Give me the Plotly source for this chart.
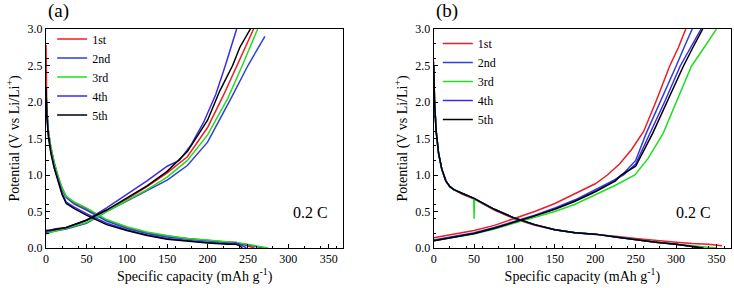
import plotly.graph_objects as go

cycles = ["1st", "2nd", "3rd", "4th", "5th"]
colors = ["#ee1c25", "#3040d0", "#22dd22", "#3b2ce8", "#000000"]

# ---------- panel (a) ----------
a_dis_x = [
    [0, 0.5, 1, 3, 6, 10, 15, 20, 25, 35, 50, 75, 100, 125, 150, 175, 200, 225, 235, 245, 252, 258],
    [0, 1, 3, 6, 10, 15, 20, 25, 35, 50, 75, 100, 125, 150, 175, 200, 225, 235, 250, 262, 270],
    [0, 1, 3, 6, 10, 15, 20, 25, 35, 50, 75, 100, 125, 150, 175, 200, 225, 240, 255, 268, 275],
    [0, 1, 3, 6, 10, 15, 20, 25, 35, 50, 75, 100, 125, 150, 175, 200, 225, 235, 242, 248],
    [0, 1, 3, 6, 10, 15, 20, 25, 35, 50, 75, 100, 125, 150, 175, 200, 225, 235, 240, 243],
]
a_dis_v = [
    [2.78, 2.2, 1.9, 1.6, 1.38, 1.18, 0.98, 0.82, 0.7, 0.62, 0.54, 0.38, 0.28, 0.21, 0.16, 0.13, 0.1, 0.08, 0.08, 0.05, 0.02, 0.0],
    [2.1, 1.85, 1.58, 1.36, 1.16, 0.96, 0.8, 0.69, 0.6, 0.52, 0.37, 0.27, 0.2, 0.15, 0.12, 0.1, 0.08, 0.07, 0.04, 0.02, 0.0],
    [2.05, 1.85, 1.6, 1.38, 1.18, 0.98, 0.82, 0.71, 0.63, 0.55, 0.39, 0.29, 0.22, 0.17, 0.13, 0.11, 0.09, 0.07, 0.04, 0.01, 0.0],
    [2.2, 1.85, 1.55, 1.32, 1.12, 0.92, 0.75, 0.63, 0.56, 0.47, 0.34, 0.25, 0.18, 0.13, 0.1, 0.08, 0.06, 0.07, 0.04, 0.0],
    [2.2, 1.8, 1.52, 1.3, 1.1, 0.9, 0.73, 0.61, 0.54, 0.45, 0.32, 0.24, 0.17, 0.12, 0.09, 0.07, 0.05, 0.05, 0.03, 0.0],
]
a_chg_x = [
    [0, 10, 25, 50, 75, 100, 125, 150, 175, 200, 220, 236, 257],
    [0, 10, 25, 50, 75, 100, 125, 150, 175, 200, 229, 250, 271],
    [0, 10, 25, 50, 75, 100, 125, 150, 175, 200, 225, 243, 262],
    [0, 10, 25, 50, 75, 100, 125, 150, 165, 180, 195, 210, 222, 236],
    [0, 10, 25, 50, 75, 100, 125, 150, 175, 200, 215, 231, 240, 253],
]
a_chg_v = [
    [0.2, 0.24, 0.27, 0.38, 0.52, 0.67, 0.84, 1.03, 1.25, 1.65, 2.1, 2.5, 3.0],
    [0.2, 0.23, 0.26, 0.34, 0.5, 0.64, 0.78, 0.93, 1.13, 1.45, 2.05, 2.5, 2.9],
    [0.19, 0.23, 0.27, 0.35, 0.5, 0.65, 0.8, 0.97, 1.2, 1.55, 2.05, 2.5, 3.0],
    [0.22, 0.26, 0.28, 0.38, 0.55, 0.73, 0.92, 1.12, 1.2, 1.42, 1.72, 2.1, 2.5, 3.0],
    [0.24, 0.25, 0.28, 0.38, 0.52, 0.68, 0.85, 1.05, 1.32, 1.75, 2.15, 2.5, 2.75, 3.0],
]

# ---------- panel (b) ----------
b_dis_x = [
    [0, 1, 3, 6, 10, 15, 20, 25, 35, 50, 75, 100, 125, 150, 175, 200, 225, 250, 275, 300, 320, 340, 357],
    [0, 1, 3, 6, 10, 15, 20, 25, 35, 50, 75, 100, 125, 150, 175, 200, 225, 250, 275, 300, 320, 335],
    [0, 1, 3, 6, 10, 15, 20, 25, 35, 49.5, 50, 50.5, 75, 100, 125, 150, 175, 200, 225, 250, 275, 300, 325, 350],
    [0, 1, 3, 6, 10, 15, 20, 25, 35, 50, 75, 100, 125, 150, 175, 200, 225, 250, 275, 300, 320, 334],
    [0, 1, 3, 6, 10, 15, 20, 25, 35, 50, 75, 100, 125, 150, 175, 200, 225, 250, 275, 300, 320, 333],
]
b_dis_v = [
    [2.55, 2.05, 1.62, 1.3, 1.08, 0.92, 0.84, 0.8, 0.74, 0.67, 0.52, 0.4, 0.31, 0.25, 0.21, 0.19, 0.16, 0.13, 0.1, 0.08, 0.06, 0.05, 0.03],
    [2.5, 2.0, 1.6, 1.3, 1.08, 0.92, 0.84, 0.8, 0.75, 0.68, 0.53, 0.41, 0.32, 0.25, 0.21, 0.19, 0.15, 0.11, 0.08, 0.05, 0.02, 0.0],
    [2.5, 2.0, 1.6, 1.3, 1.08, 0.92, 0.84, 0.8, 0.75, 0.68, 0.4, 0.67, 0.53, 0.41, 0.32, 0.25, 0.21, 0.19, 0.15, 0.11, 0.08, 0.05, 0.02, 0.0],
    [2.5, 2.0, 1.6, 1.3, 1.08, 0.92, 0.84, 0.8, 0.75, 0.68, 0.53, 0.41, 0.32, 0.25, 0.21, 0.19, 0.15, 0.11, 0.08, 0.05, 0.02, 0.0],
    [2.5, 2.0, 1.6, 1.3, 1.08, 0.92, 0.84, 0.8, 0.75, 0.68, 0.53, 0.41, 0.32, 0.25, 0.21, 0.19, 0.15, 0.11, 0.08, 0.05, 0.02, 0.0],
]
b_chg_x = [
    [0, 25, 50, 75, 100, 125, 150, 175, 200, 215, 230, 245, 260, 276, 292, 303, 312],
    [0, 25, 50, 75, 100, 125, 150, 175, 200, 225, 235, 250, 263, 282, 300, 310, 320],
    [0, 25, 50, 75, 100, 125, 150, 175, 200, 225, 249, 265, 284, 302, 319, 335, 350],
    [0, 25, 50, 75, 100, 125, 150, 175, 200, 225, 235, 250, 268, 287, 305, 318, 331],
    [0, 25, 50, 75, 100, 125, 150, 175, 200, 225, 232, 250, 271, 290, 309, 321, 333],
]
b_chg_v = [
    [0.14, 0.19, 0.24, 0.31, 0.4, 0.5, 0.61, 0.74, 0.88, 1.0, 1.15, 1.35, 1.6, 2.03, 2.49, 2.75, 3.0],
    [0.11, 0.16, 0.21, 0.28, 0.36, 0.45, 0.55, 0.66, 0.8, 0.94, 1.02, 1.2, 1.57, 2.03, 2.49, 2.75, 3.0],
    [0.1, 0.14, 0.19, 0.26, 0.34, 0.42, 0.5, 0.6, 0.73, 0.86, 1.0, 1.22, 1.57, 2.03, 2.49, 2.75, 3.0],
    [0.1, 0.15, 0.2, 0.27, 0.35, 0.44, 0.54, 0.65, 0.78, 0.93, 1.0, 1.15, 1.57, 2.03, 2.49, 2.75, 3.0],
    [0.1, 0.15, 0.2, 0.27, 0.35, 0.44, 0.53, 0.64, 0.77, 0.92, 1.0, 1.12, 1.57, 2.03, 2.49, 2.75, 3.0],
]

x_ticks = [0, 50, 100, 150, 200, 250, 300, 350]
y_ticks = [0.0, 0.5, 1.0, 1.5, 2.0, 2.5, 3.0]

FONT = "Times New Roman, Liberation Serif, serif"

fig = go.Figure()
panels = [
    ("x", "y", "legend", a_dis_x, a_dis_v, a_chg_x, a_chg_v),
    ("x2", "y2", "legend2", b_dis_x, b_dis_v, b_chg_x, b_chg_v),
]
for xa, ya, lg, dx, dv, cx, cv in panels:
    for i, name in enumerate(cycles):
        fig.add_trace(go.Scatter(
            x=dx[i] + [None] + cx[i],
            y=dv[i] + [None] + cv[i],
            mode="lines", name=name, legend=lg,
            line=dict(color=colors[i], width=1.5),
            xaxis=xa, yaxis=ya,
        ))

axis_common = dict(
    showline=True, linecolor="black", linewidth=1, mirror=True,
    ticks="inside", ticklen=4, tickcolor="black",
    minor=dict(ticks="inside", ticklen=2.5, tickcolor="black"),
    showgrid=False, zeroline=False, automargin=False,
    tickfont=dict(family=FONT, size=12, color="black"),
)
xtitle = dict(text="Specific capacity (mAh g<sup>-1</sup>)", font=dict(family=FONT, size=14, color="black"), standoff=4)
ytitle = dict(text="Potential (V vs Li/Li<sup>+</sup>)", font=dict(family=FONT, size=14, color="black"), standoff=4)

fig.update_layout(
    width=734, height=288,
    margin=dict(l=46, r=3, t=29, b=40, autoexpand=False),
    paper_bgcolor="white", plot_bgcolor="white",
    xaxis=dict(domain=[0, 0.434], range=[0, 368], tickvals=x_ticks, title=xtitle, anchor="y", **axis_common),
    yaxis=dict(domain=[0, 1], range=[0, 3], tickvals=y_ticks, tickformat=".1f", title=ytitle, anchor="x", **axis_common),
    xaxis2=dict(domain=[0.566, 1], range=[0, 368], tickvals=x_ticks, title=xtitle, anchor="y2", **axis_common),
    yaxis2=dict(domain=[0, 1], range=[0, 3], tickvals=y_ticks, tickformat=".1f", title=ytitle, anchor="x2", **axis_common),
    legend=dict(x=0.009, y=1.02, xanchor="left", yanchor="top", bgcolor="rgba(0,0,0,0)",
                font=dict(family=FONT, size=12, color="black"), tracegroupgap=0),
    legend2=dict(x=0.572, y=1.0, xanchor="left", yanchor="top", bgcolor="rgba(0,0,0,0)",
                 font=dict(family=FONT, size=12, color="black"), tracegroupgap=0),
    showlegend=True,
    annotations=[
        dict(text="(a)", xref="paper", yref="paper", x=0.0, y=1.0, yshift=18, xanchor="left", yanchor="middle",
             showarrow=False, font=dict(family=FONT, size=19, color="black")),
        dict(text="(b)", xref="paper", yref="paper", x=0.566, y=1.0, yshift=18, xanchor="left", yanchor="middle",
             showarrow=False, font=dict(family=FONT, size=19, color="black")),
        dict(text="0.2 C", xref="x", yref="y", x=328, y=0.49, showarrow=False,
             font=dict(family=FONT, size=16, color="black")),
        dict(text="0.2 C", xref="x2", yref="y2", x=322, y=0.49, showarrow=False,
             font=dict(family=FONT, size=16, color="black")),
    ],
)

fig.write_html("out.html", config={"displayModeBar": False},
               post_script="document.body.style.margin='0';document.body.style.padding='0';")
